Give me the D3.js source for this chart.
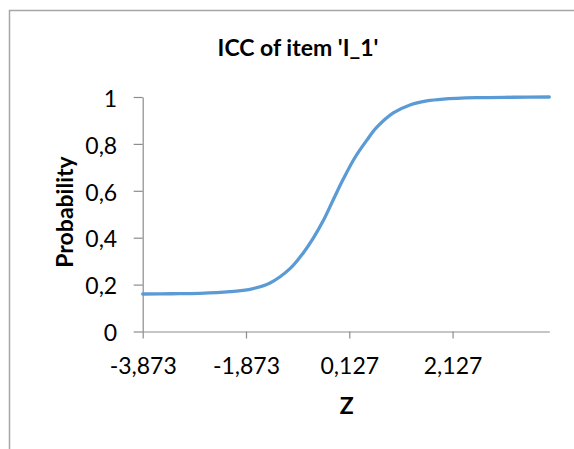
<!DOCTYPE html>
<html>
<head>
<meta charset="utf-8">
<script src="https://cdn.jsdelivr.net/npm/d3@7"></script>
<style>
  html, body { margin: 0; padding: 0; background: #fff; }
  svg { display: block; }
</style>
</head>
<body>
<svg id="chart" width="574" height="449"></svg>
<script>
// ---- data ----
const chartTitle = "ICC of item 'I_1'";
const xTitle = "Z";
const yTitle = "Probability";
const zValues = [-3.873, -3.3, -2.764, -2.183, -1.796, -1.408, -1.021, -0.764, -0.570, -0.376, -0.183, 0.011, 0.237, 0.464, 0.657, 0.979, 1.302, 1.626, 1.947, 2.594, 3.3, 4.0];
const probValues = [0.160, 0.161, 0.163, 0.170, 0.180, 0.207, 0.268, 0.335, 0.398, 0.473, 0.562, 0.650, 0.742, 0.815, 0.870, 0.932, 0.966, 0.983, 0.991, 0.997, 0.999, 1.0];
const xTickValues = [-3.873, -1.873, 0.127, 2.127];
const yTickValues = [0, 0.2, 0.4, 0.6, 0.8, 1];
const xDomain = [-3.873, 4.0];
const yDomain = [0, 1];

// ---- layout ----
const svg = d3.select("#chart");
const FONT = "Lato, 'Open Sans', sans-serif";
const plot = { left: 142.7, right: 549.3, top: 97, bottom: 331.5 };
const axisColor = "#8c8c8c";

// outer chart border
svg.append("rect")
  .attr("x", 9.5).attr("y", 10.5)
  .attr("width", 700).attr("height", 600)
  .attr("fill", "#fff")
  .attr("stroke", "#a6a6a6")
  .attr("stroke-width", 1.5);

const x = d3.scaleLinear().domain(xDomain).range([plot.left, plot.right]);
const y = d3.scaleLinear().domain(yDomain).range([plot.bottom, plot.top]);

const fmt = d => String(+d.toFixed(3)).replace(".", ",");

// y axis
const yAxis = svg.append("g")
  .attr("transform", `translate(${plot.left},0)`)
  .call(d3.axisLeft(y).tickValues(yTickValues).tickSize(9).tickSizeOuter(0).tickFormat(fmt));
yAxis.select(".domain").attr("stroke", axisColor).attr("stroke-width", 1.2);
yAxis.selectAll(".tick line").attr("stroke", axisColor).attr("stroke-width", 1.2);
yAxis.selectAll(".tick text")
  .attr("x", -25.5).attr("dy", "0.4em")
  .attr("fill", "#000")
  .style("font-family", FONT).style("font-size", "23px");

// x axis
const xAxis = svg.append("g")
  .attr("transform", `translate(0,${plot.bottom})`)
  .call(d3.axisBottom(x).tickValues(xTickValues).tickSize(7).tickSizeOuter(0).tickFormat(fmt));
xAxis.select(".domain").attr("stroke", axisColor).attr("stroke-width", 1.2);
xAxis.selectAll(".tick line").attr("stroke", axisColor).attr("stroke-width", 1.2);
xAxis.selectAll(".tick text")
  .attr("y", 42.5).attr("dy", null)
  .attr("fill", "#000")
  .style("font-family", FONT).style("font-size", "23px");

// curve
const data = zValues.map((z, i) => ({ z, p: probValues[i] }));
svg.append("path")
  .datum(data)
  .attr("fill", "none")
  .attr("stroke", "#5b9bd5")
  .attr("stroke-width", 3.3)
  .attr("stroke-linecap", "round")
  .attr("d", d3.line().x(d => x(d.z)).y(d => y(d.p)).curve(d3.curveCatmullRom.alpha(0.5)));

// titles
svg.append("text")
  .attr("x", 298).attr("y", 56)
  .attr("text-anchor", "middle")
  .style("font-family", FONT).style("font-size", "23px").style("font-weight", "bold")
  .text(chartTitle);

svg.append("text")
  .attr("transform", "translate(73,212) rotate(-90)")
  .attr("text-anchor", "middle")
  .style("font-family", FONT).style("font-size", "23px").style("font-weight", "bold")
  .text(yTitle);

svg.append("text")
  .attr("x", 346.7).attr("y", 414)
  .attr("text-anchor", "middle")
  .style("font-family", FONT).style("font-size", "23px").style("font-weight", "bold")
  .text(xTitle);
</script>
</body>
</html>
